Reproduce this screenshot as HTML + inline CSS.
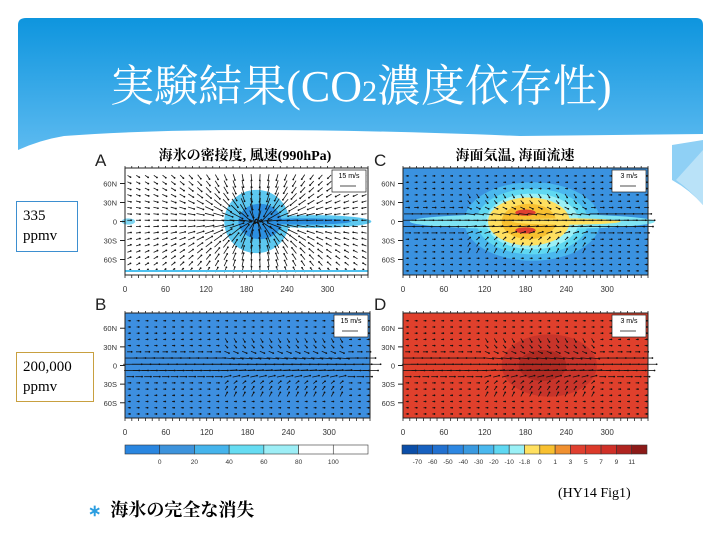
<!DOCTYPE html>
<html><head><meta charset="utf-8"><style>
body{margin:0;width:720px;height:540px;overflow:hidden;background:#fff;font-family:"Liberation Sans","Noto Sans CJK JP",sans-serif}
#root{position:relative;width:720px;height:540px}
.ttl{position:absolute;left:18px;top:50px;width:686px;text-align:center;color:#fff;font-family:"Liberation Serif","Noto Serif CJK SC",serif;font-size:44px;letter-spacing:0px}
.box{position:absolute;background:#fff;font-family:"Liberation Serif","Noto Serif CJK SC",serif;font-size:15px;line-height:20px;padding:4px 6px;box-sizing:border-box}
</style></head><body><div id="root">
<svg width="720" height="540" style="position:absolute;left:0;top:0">
<defs><linearGradient id="hg" x1="0" y1="0" x2="0" y2="1"><stop offset="0" stop-color="#0e95de"/><stop offset="1" stop-color="#5cbaf0"/></linearGradient></defs>
<path d="M26 18 H696 Q703 18 703 25 V150 H18 V25 Q18 18 26 18Z" fill="url(#hg)"/>
<path d="M18 150 Q40 140 64 136 Q220 124 520 136 L703 134 V150Z" fill="#fff"/>
<path d="M672 145 L703 140 V205 Q690 190 672 180Z" fill="#8fd0f5"/>
<path d="M676 180 Q690 190 703 205 V150Z" fill="#b9e2f8"/>
</svg>
<div class="ttl">実験結果(CO<span style="font-size:30px">2</span>濃度依存性)</div>
<svg id="ch" width="720" height="540" style="position:absolute;left:0;top:0"></svg>
<div class="box" style="left:16px;top:201px;width:62px;height:51px;border:1px solid #3d8fd0">335<br>ppmv</div>
<div class="box" style="left:16px;top:352px;width:78px;height:50px;border:1px solid #c8a040">200,000<br>ppmv</div>
<div style="position:absolute;left:558px;top:486px;font-family:'Liberation Serif',serif;font-size:14px">(HY14 Fig1)</div>
<div style="position:absolute;left:88px;top:496px;font-family:'Liberation Serif','Noto Serif CJK SC',serif;font-size:18px;font-weight:bold"><span style="color:#2a9de0;font-size:16px">∗</span>&nbsp; 海氷の完全な消失</div>
</div>
<script>
const lonTicks=[0,60,120,180,240,300];
const latTicks=[60,30,0,-30,-60];
const latLabels=["60N","30N","0","30S","60S"];
const leftBarLabels=["0","20","40","60","80","100"];
const leftBarColors=["#2a86e0","#3d93dc","#45b4ec","#66dcf2","#9deef6","#ffffff","#ffffff"];
const rightBarLabels=["-70","-60","-50","-40","-30","-20","-10","-1.8","0","1","3","5","7","9","11"];
const rightBarColors=["#0b4ea8","#1761c0","#2271d0","#2d87e2","#3a9ae0","#4ab8ee","#5fd8f2","#9af0f6","#ffe060","#f8c030","#f09030","#e04030","#dc3a2a","#d03028","#b02420","#8c1a18"];
// shading blobs: [lonCenter, latCenter, lonRadius, latRadius]
const iceBlob=[195,0,48,50], iceTongue=[280,0,85,10];
const warmHalo=[190,0,100,62], warmBlob=[185,0,60,38];
const hotBlob=[215,0,70,50];
const NS='http://www.w3.org/2000/svg';
const svg=document.getElementById('ch');
function el(t,a,p){const e=document.createElementNS(NS,t);for(const k in a)e.setAttribute(k,a[k]);(p||svg).appendChild(e);return e;}
function panel(px,py,w,h,name){
  const g=el('g',{});
  
  
  return {g,X:l=>px+l/360*w,Y:la=>py+h/2-la*h/169,px,py,w,h};
}
function axes(P,letter,lx,ly,ref){
  const {g,X,Y,px,py,w,h}=P;
  el('rect',{x:px,y:py,width:w,height:h,fill:'none',stroke:'#222','stroke-width':1},g);
  for(let i=0;i<=36;i++){const x=px+i*w/36;el('line',{x1:x,y1:py+h,x2:x,y2:py+h+3,stroke:'#222','stroke-width':0.8},g);el('line',{x1:x,y1:py,x2:x,y2:py-2,stroke:'#222','stroke-width':0.8},g);}
  lonTicks.forEach(l=>{const t=el('text',{x:X(l),y:py+h+17,'font-size':8,'text-anchor':'middle',fill:'#333'},g);t.textContent=l;});
  latTicks.forEach((la,i)=>{el('line',{x1:px-5,y1:Y(la),x2:px,y2:Y(la),stroke:'#222'},g);const t=el('text',{x:px-8,y:Y(la)+3,'font-size':7.5,'text-anchor':'end',fill:'#333'},g);t.textContent=latLabels[i];});
  const L=el('text',{x:lx,y:ly,'font-size':17,fill:'#222'},g);L.textContent=letter;
  el('rect',{x:px+w-36,y:py+2,width:34,height:22,fill:'#fff',stroke:'#222','stroke-width':0.7},g);
  const r=el('text',{x:px+w-19,y:py+10,'font-size':7,'text-anchor':'middle'},g);r.textContent=ref;
  el('line',{x1:px+w-28,y1:py+18,x2:px+w-12,y2:py+18,stroke:'#222','stroke-width':0.8},g);
}
function blob(P,b,fill,op){const {g,X,Y}=P;el('ellipse',{cx:X(b[0]),cy:Y(b[1]),rx:b[2]/360*P.w,ry:Y(0)-Y(b[3]),fill,opacity:op||1},g);}
function quiver(P,cx,scale,mode){
  const {g,X,Y}=P;
  for(let lo=5;lo<360;lo+=13)for(let la=-78;la<=78;la+=10){
    let dx=cx-lo,dy=-la; let d=Math.hypot(dx,dy*1.5)+8;
    let u,v;
    if(mode==='conv'){const m=scale*Math.min(1.6,70/d);u=dx/d*m;v=dy/d*m*1.5;}
    else{u=scale*Math.exp(-la*la/250)*2+1.5;v=0;if(Math.abs(la)<50&&Math.abs(lo-cx)<90)v=-la/50*3;}
    const x=X(lo),y=Y(la),x2=x+u,y2=y-v;
    el('line',{x1:x-u*0.4,y1:y+v*0.4,x2:x2,y2:y2,stroke:'#111','stroke-width':0.8},g);
    el('circle',{cx:x2,cy:y2,r:0.9,fill:'#111'},g);
  }
}
// A
const A=panel(125,168,243,107,'panel-a-sea-ice-wind');
el('rect',{x:125,y:168,width:243,height:107,fill:'#fff'},A.g);
blob(A,iceBlob,'#5cc8f0');blob(A,iceTongue,'#5cc8f0');blob(A,[200,0,32,28],'#2c8fe0');blob(A,[265,0,70,5],'#2c8fe0');
blob(A,[5,0,10,5],'#7fd6f2');
quiver(A,195,8,'conv');
el('rect',{x:125,y:270,width:243,height:2,fill:'#4dc0ee'},A.g);
axes(A,'A',95,166,'15 m/s');
// C
const C=panel(403,168,245,107,'panel-c-sst-current');
el('rect',{x:403,y:168,width:245,height:107,fill:'#3a92e0'},C.g);
blob(C,warmHalo,'#4ab8ee');blob(C,[190,0,82,52],'#5fd8f2');blob(C,[190,0,180,12],'#7fe4f4');blob(C,[190,0,68,44],'#9af0f6');
blob(C,warmBlob,'#ffe060');blob(C,[185,0,40,28],'#f8c030');blob(C,[180,14,15,5],'#e04030');blob(C,[180,-14,15,5],'#e04030');blob(C,[240,0,80,5],'#ffe060');
quiver(C,180,4,'zonal');
axes(C,'C',374,166,'3 m/s');
// B
const B=panel(125,313,245,105,'panel-b-sea-ice-wind');
el('rect',{x:125,y:313,width:245,height:105,fill:'#3d8fe0'},B.g);
quiver(B,230,6,'zonal');
axes(B,'B',95,310,'15 m/s');
// D
const D=panel(403,313,245,105,'panel-d-sst-current');
el('rect',{x:403,y:313,width:245,height:105,fill:'#e0402c'},D.g);
blob(D,hotBlob,'#c8342a');blob(D,[205,0,35,25],'#b02a22');
quiver(D,200,5,'zonal');
axes(D,'D',374,310,'3 m/s');
// titles
let t=el('text',{x:245,y:160,'font-size':14,'font-weight':'bold','text-anchor':'middle','font-family':'Liberation Serif,Noto Serif CJK SC,serif'});t.textContent='海氷の密接度, 風速(990hPa)';

t=el('text',{x:515,y:160,'font-size':14,'font-weight':'bold','text-anchor':'middle','font-family':'Liberation Serif,Noto Serif CJK SC,serif'});t.textContent='海面気温, 海面流速';

// colorbars
function cbar(x0,w,cols,labs,name){const g=el('g',{});
  const n=cols.length,cw=w/n;cols.forEach((c,i)=>el('rect',{x:x0+i*cw,y:445,width:cw,height:9,fill:c,stroke:'#333','stroke-width':0.6},g));
  labs.forEach((l,i)=>{const tt=el('text',{x:x0+(i+1)*cw,y:464,'font-size':6.5,'text-anchor':'middle',fill:'#333'},g);tt.textContent=l;});}
cbar(125,243,leftBarColors,leftBarLabels,'sea-ice-colorbar');
cbar(402,245,rightBarColors,rightBarLabels,'temperature-colorbar');
</script></body></html>
